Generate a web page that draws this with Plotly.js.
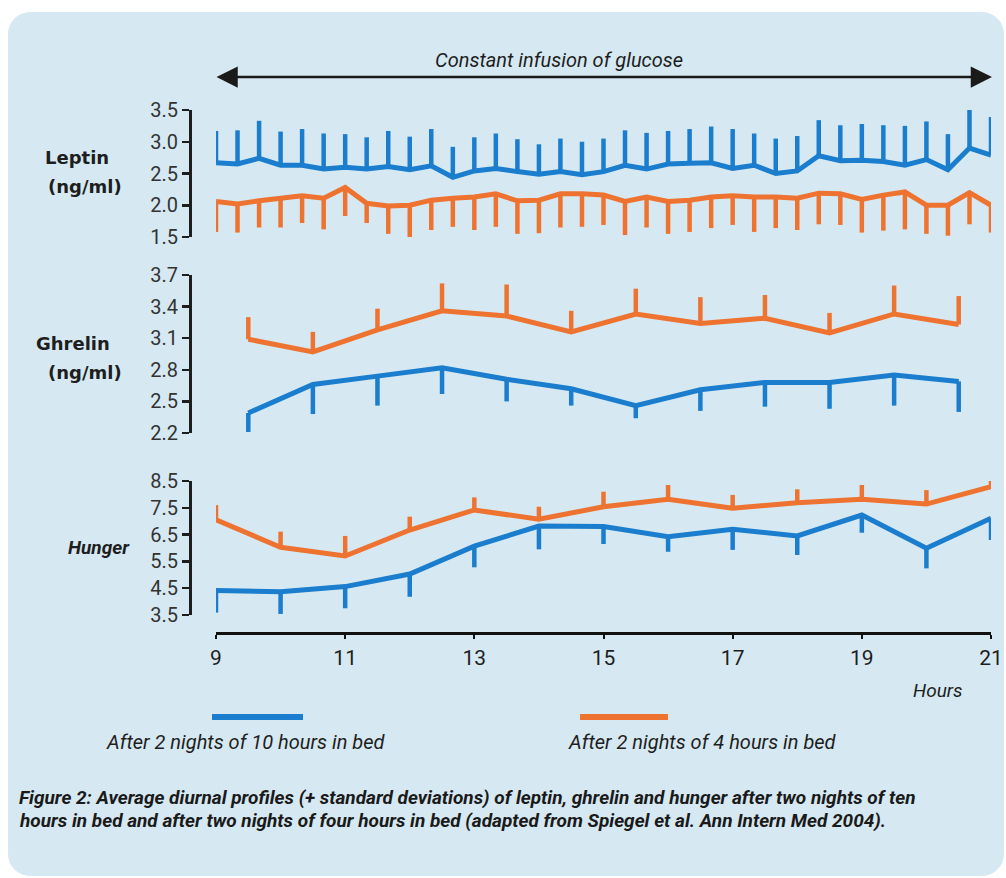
<!DOCTYPE html>
<html>
<head>
<meta charset="utf-8">
<script src="https://cdn.plot.ly/plotly-3.0.1.min.js"></script>
<style>
  html, body { margin: 0; padding: 0; background: #ffffff; }
  #bg { position: absolute; left: 8px; top: 12px; width: 996px; height: 864px; background: #d6e9f2; border-radius: 22px; }
  #chart { position: absolute; left: 0; top: 0; width: 1006px; height: 878px; }
</style>
</head>
<body>
<div id="bg"></div>
<div id="chart"></div>
<script>
// ---------- DATA ----------
const seriesNames = ["After 2 nights of 10 hours in bed", "After 2 nights of 4 hours in bed"];

// Leptin: every 20 minutes, 9:00 - 21:00 (hours)
const leptinHours = [9, 9.333, 9.667, 10, 10.333, 10.667, 11, 11.333, 11.667, 12, 12.333, 12.667,
  13, 13.333, 13.667, 14, 14.333, 14.667, 15, 15.333, 15.667, 16, 16.333, 16.667,
  17, 17.333, 17.667, 18, 18.333, 18.667, 19, 19.333, 19.667, 20, 20.333, 20.667, 21];
const leptin10h = [2.67, 2.65, 2.74, 2.63, 2.63, 2.57, 2.60, 2.57, 2.61, 2.56, 2.62, 2.44,
  2.54, 2.58, 2.53, 2.49, 2.53, 2.48, 2.53, 2.63, 2.57, 2.65, 2.66, 2.67,
  2.58, 2.63, 2.50, 2.54, 2.78, 2.70, 2.71, 2.69, 2.63, 2.72, 2.56, 2.90, 2.79];
const leptin10hSD = [0.50, 0.53, 0.59, 0.53, 0.57, 0.56, 0.52, 0.50, 0.56, 0.52, 0.58, 0.48,
  0.53, 0.55, 0.51, 0.47, 0.52, 0.52, 0.52, 0.55, 0.57, 0.52, 0.54, 0.57,
  0.62, 0.50, 0.55, 0.55, 0.56, 0.56, 0.57, 0.57, 0.62, 0.60, 0.56, 0.68, 0.60];
const leptin4h = [2.06, 2.02, 2.07, 2.11, 2.15, 2.11, 2.28, 2.03, 1.99, 2.00, 2.08, 2.11,
  2.13, 2.18, 2.07, 2.08, 2.18, 2.18, 2.16, 2.06, 2.13, 2.06, 2.08, 2.13,
  2.15, 2.13, 2.13, 2.11, 2.19, 2.18, 2.09, 2.16, 2.21, 2.00, 2.00, 2.20, 2.00];
const leptin4hSD = [0.48, 0.45, 0.42, 0.46, 0.43, 0.49, 0.45, 0.31, 0.44, 0.55, 0.47, 0.45,
  0.52, 0.52, 0.52, 0.52, 0.53, 0.52, 0.47, 0.53, 0.48, 0.51, 0.50, 0.49,
  0.46, 0.55, 0.49, 0.50, 0.49, 0.49, 0.52, 0.56, 0.59, 0.45, 0.48, 0.50, 0.43];

// Ghrelin: hourly at half hours
const ghrelinHours = [9.5, 10.5, 11.5, 12.5, 13.5, 14.5, 15.5, 16.5, 17.5, 18.5, 19.5, 20.5];
const ghrelin10h = [2.39, 2.66, 2.74, 2.82, 2.71, 2.62, 2.46, 2.61, 2.68, 2.68, 2.75, 2.69];
const ghrelin10hSD = [0.18, 0.28, 0.28, 0.25, 0.21, 0.16, 0.12, 0.20, 0.23, 0.25, 0.29, 0.29];
const ghrelin4h = [3.09, 2.97, 3.18, 3.36, 3.31, 3.16, 3.33, 3.24, 3.29, 3.15, 3.33, 3.23];
const ghrelin4hSD = [0.21, 0.19, 0.20, 0.26, 0.30, 0.20, 0.24, 0.25, 0.22, 0.19, 0.27, 0.27];

// Hunger: hourly
const hungerHours = [9, 10, 11, 12, 13, 14, 15, 16, 17, 18, 19, 20, 21];
const hunger10h = [4.41, 4.37, 4.56, 5.03, 6.07, 6.82, 6.80, 6.42, 6.70, 6.45, 7.23, 5.99, 7.11];
const hunger10hSD = [0.82, 0.83, 0.81, 0.85, 0.79, 0.87, 0.65, 0.56, 0.77, 0.71, 0.66, 0.75, 0.81];
const hunger4h = [7.05, 6.03, 5.70, 6.67, 7.42, 7.07, 7.54, 7.82, 7.48, 7.69, 7.82, 7.64, 8.29];
const hunger4hSD = [0.55, 0.58, 0.75, 0.50, 0.47, 0.47, 0.56, 0.53, 0.50, 0.50, 0.53, 0.52, 0.56];

// Tick labels
const xTicks = [9, 11, 13, 15, 17, 19, 21];
const leptinTicks = [1.5, 2.0, 2.5, 3.0, 3.5];
const ghrelinTicks = [2.2, 2.5, 2.8, 3.1, 3.4, 3.7];
const hungerTicks = [3.5, 4.5, 5.5, 6.5, 7.5, 8.5];

// Texts
const topLabel = "Constant infusion of glucose";
const xLabel = "Hours";
const captionLines = [
  "Figure 2: Average diurnal profiles (+ standard deviations) of leptin, ghrelin and hunger after two nights of ten",
  "hours in bed and after two nights of four hours in bed (adapted from Spiegel et al. Ann Intern Med 2004)."
];

// ---------- STYLE ----------
const W = 1006, H = 878;
const BLUE = "#1a7dcd", ORANGE = "#ee7330", INK = "#1e1e1e";
const SANS = "Roboto, Liberation Sans, sans-serif";
const BOLDF = "DejaVu Sans, Roboto, sans-serif";
const px = v => v / W;          // pixel -> paper x
const py = v => 1 - v / H;      // pixel -> paper y
const zeros = a => a.map(() => 0);

function tr(x, y, up, down, color, ya) {
  return {
    type: "scatter", mode: "lines", x: x, y: y, xaxis: "x", yaxis: ya,
    line: { color: color, width: 5 }, cliponaxis: false, showlegend: false, hoverinfo: "x+y",
    error_y: { type: "data", symmetric: false, array: up, arrayminus: down,
               width: 0, thickness: 4.5, color: color }
  };
}

const data = [
  tr(leptinHours, leptin10h, leptin10hSD, zeros(leptin10hSD), BLUE, "y"),
  tr(leptinHours, leptin4h, zeros(leptin4hSD), leptin4hSD, ORANGE, "y"),
  tr(ghrelinHours, ghrelin4h, ghrelin4hSD, zeros(ghrelin4hSD), ORANGE, "y2"),
  tr(ghrelinHours, ghrelin10h, zeros(ghrelin10hSD), ghrelin10hSD, BLUE, "y2"),
  tr(hungerHours, hunger4h, hunger4hSD, zeros(hunger4hSD), ORANGE, "y3"),
  tr(hungerHours, hunger10h, zeros(hunger10hSD), hunger10hSD, BLUE, "y3")
];

function yax(domTop, domBot, range, ticks) {
  return {
    domain: [py(domBot), py(domTop)], range: range, anchor: "free", position: px(190),
    showgrid: false, zeroline: false, showline: true, linecolor: INK, linewidth: 2.5,
    ticks: "outside", ticklen: 7, tickwidth: 2.5, tickcolor: INK,
    tickvals: ticks, tickformat: ".1f",
    tickfont: { family: SANS, size: 20, color: "#333333" }
  };
}

function note(x, y, text, font, opts) {
  return Object.assign({ xref: "paper", yref: "paper", x: px(x), y: py(y), text: text, showarrow: false,
    xanchor: "center", yanchor: "middle", font: font }, opts || {});
}

const italic = (size, weight) => ({ family: SANS, size: size, color: INK, style: "italic", weight: weight || 400 });
const boldLab = { family: BOLDF, size: 18, color: INK, weight: 700 };
const captionFont = { family: SANS, size: 19, color: "#1a1a1a", style: "italic", weight: 700 };

const layout = {
  width: W, height: H,
  margin: { l: 0, r: 0, t: 0, b: 0 },
  paper_bgcolor: "rgba(0,0,0,0)", plot_bgcolor: "rgba(0,0,0,0)",
  showlegend: false,
  xaxis: {
    domain: [px(216), px(991)], range: [9, 21], anchor: "free", position: py(633),
    showgrid: false, zeroline: false, showline: true, linecolor: "#111", linewidth: 3,
    ticks: "outside", ticklen: 4, tickwidth: 2, tickcolor: "#111",
    tickvals: xTicks, ticklabelstandoff: 1,
    tickfont: { family: SANS, size: 21, color: INK }
  },
  yaxis: yax(110, 237, [1.5, 3.5], leptinTicks),
  yaxis2: yax(275, 433, [2.2, 3.7], ghrelinTicks),
  yaxis3: yax(481, 615, [3.5, 8.5], hungerTicks),
  shapes: [
    { type: "line", xref: "paper", yref: "paper", x0: px(212), x1: px(303), y0: py(717), y1: py(717),
      line: { color: BLUE, width: 6 } },
    { type: "line", xref: "paper", yref: "paper", x0: px(580), x1: px(668), y0: py(717), y1: py(717),
      line: { color: ORANGE, width: 6 } }
  ],
  annotations: [
    { xref: "paper", yref: "paper", x: px(992), y: py(77), ax: -777, ay: 0, axref: "pixel", ayref: "pixel",
      text: "", showarrow: true, arrowside: "end+start", arrowhead: 2, arrowsize: 1.7, arrowwidth: 2.5, arrowcolor: "#1a1a1a" },
    note(559, 60, topLabel, italic(20)),
    note(77, 158, "Leptin", boldLab),
    note(85, 186, "(ng/ml)", boldLab),
    note(73, 343, "Ghrelin", boldLab),
    note(85, 372, "(ng/ml)", boldLab),
    note(99, 547, "Hunger", italic(19, 700)),
    note(938, 690, xLabel, italic(19)),
    note(246, 742, seriesNames[0], italic(20)),
    note(702, 742, seriesNames[1], italic(20)),
    note(17, 797, captionLines[0], captionFont, { xanchor: "left" }),
    note(17, 820, captionLines[1], captionFont, { xanchor: "left" })
  ]
};

Plotly.newPlot("chart", data, layout, { displayModeBar: false, staticPlot: true });
</script>
</body>
</html>
